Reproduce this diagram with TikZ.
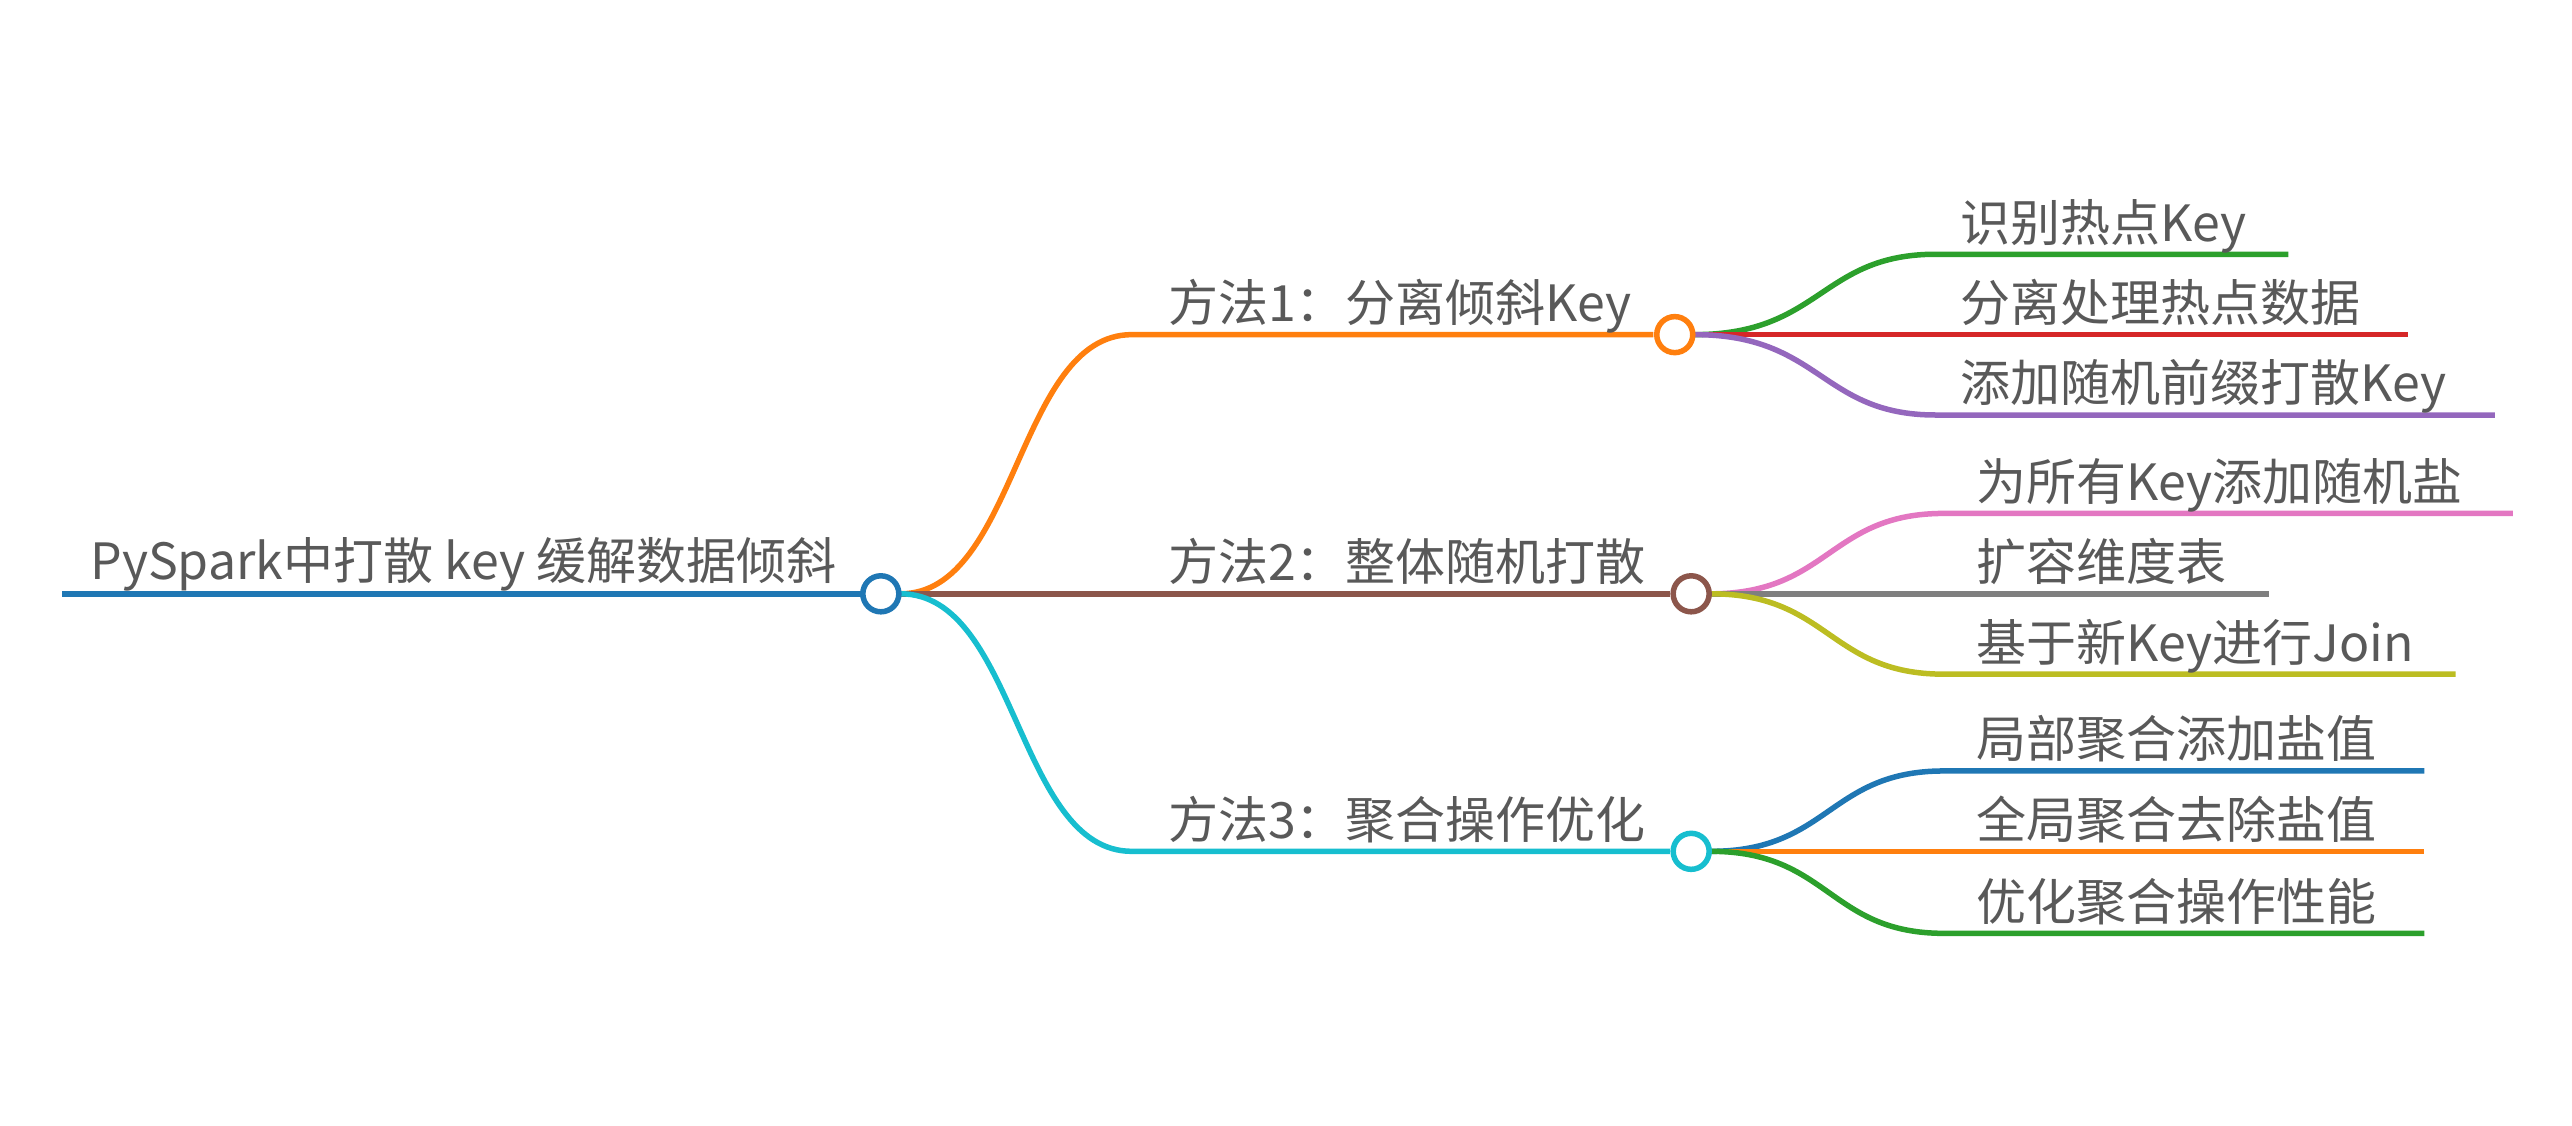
\documentclass[tikz,border=0pt]{standalone}
\usepackage{fontspec}
\setmainfont{Noto Sans CJK SC}
\begin{document}
\begin{tikzpicture}[x=1.64pt,y=-1.64pt,
 t/.style={anchor=base west,inner sep=0pt,text=black!65,font=\fontsize{50}{58}\selectfont},
 l/.style={line width=5.5pt},
 c/.style={circle,line width=5.5pt,fill=white,minimum size=36pt,inner sep=0pt}]
\definecolor{cB}{HTML}{1F77B4}\definecolor{cO}{HTML}{FF7F0E}\definecolor{cG}{HTML}{2CA02C}
\definecolor{cR}{HTML}{D62728}\definecolor{cP}{HTML}{9467BD}\definecolor{cBr}{HTML}{8C564B}
\definecolor{cPk}{HTML}{E377C2}\definecolor{cGy}{HTML}{7F7F7F}\definecolor{cOl}{HTML}{BCBD22}
\definecolor{cC}{HTML}{17BECF}
\useasboundingbox (0,0) rectangle (1568,686);
% root
\coordinate (r0) at (38,362);
\draw[l,cB] (r0) -- (525,362);
\node[t] (rt) at (55,353) {PySpark中打散 key 缓解数据倾斜};
% branch 1
\coordinate (a1) at (690,204); \coordinate (a2) at (1008,204);
\draw[l,cO] (549,362) .. controls (620,362) and (620,204) .. (a1) -- (a2);
\node[t] (at) at (712,196) {方法1：分离倾斜Key};
% branch 2
\coordinate (b2) at (1018,362);
\draw[l,cBr] (549,362) -- (b2);
\node[t] (bt) at (712,354) {方法2：整体随机打散};
% branch 3
\coordinate (d1) at (690,519); \coordinate (d2) at (1018,519);
\draw[l,cC] (549,362) .. controls (620,362) and (620,519) .. (d1) -- (d2);
\node[t] (dt) at (712,511) {方法3：聚合操作优化};
% leaves 1
\draw[l,cG] (1033,204) .. controls (1110,204) and (1110,155) .. (1180,155) -- (1395,155);
\draw[l,cR] (1033,204) -- (1468,204);
\draw[l,cP] (1033,204) .. controls (1110,204) and (1110,253) .. (1180,253) -- (1521,253);
\node[t] (a1t) at (1195,147) {识别热点Key};
\node[t] (a2t) at (1195,196) {分离处理热点数据};
\node[t] (a3t) at (1195,245) {添加随机前缀打散Key};
% leaves 2
\draw[l,cPk] (1043,362) .. controls (1115,362) and (1115,313) .. (1185,313) -- (1532,313);
\draw[l,cGy] (1043,362) -- (1383,362);
\draw[l,cOl] (1043,362) .. controls (1115,362) and (1115,411) .. (1185,411) -- (1497,411);
\node[t] (b1t) at (1205,305) {为所有Key添加随机盐};
\node[t] (b2t) at (1205,354) {扩容维度表};
\node[t] (b3t) at (1205,403) {基于新Key进行Join};
% leaves 3
\draw[l,cB] (1043,519) .. controls (1115,519) and (1115,470) .. (1185,470) -- (1478,470);
\draw[l,cO] (1043,519) -- (1478,519);
\draw[l,cG] (1043,519) .. controls (1115,519) and (1115,569) .. (1185,569) -- (1478,569);
\node[t] (d1t) at (1205,462) {局部聚合添加盐值};
\node[t] (d2t) at (1205,511) {全局聚合去除盐值};
\node[t] (d3t) at (1205,561) {优化聚合操作性能};
% circles
\node[c,draw=cB] (rc) at (537,362) {};
\node[c,draw=cO] (ac) at (1021,204) {};
\node[c,draw=cBr] (bc) at (1031,362) {};
\node[c,draw=cC] (dc) at (1031,519) {};
\end{tikzpicture}
\end{document}
